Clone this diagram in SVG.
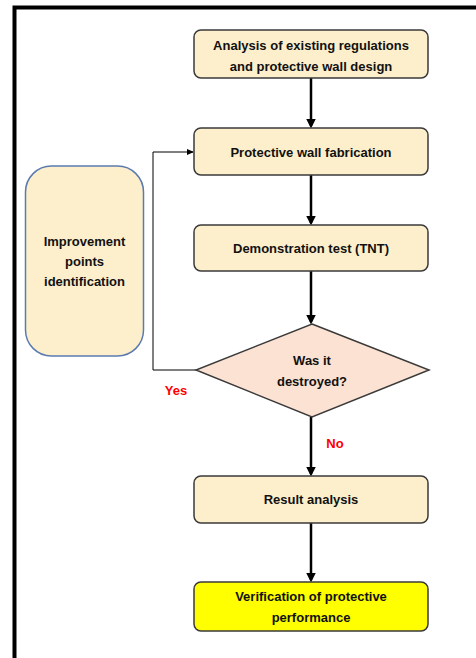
<svg xmlns="http://www.w3.org/2000/svg" width="476" height="658" viewBox="0 0 476 658">
<style>
.box{fill:#fdefcb;stroke:#3a3a3a;stroke-width:1.5}
.yel{fill:#ffff00;stroke:#3a3a3a;stroke-width:1.5}
.t{font-family:"Liberation Sans",Arial,sans-serif;font-weight:bold;font-size:13px;fill:#111;text-anchor:middle}
.red{fill:#ff0000}
.main{stroke:#000;stroke-width:2.5;fill:none}
.thin{stroke:#000;stroke-width:1;fill:none}
</style>
<defs>
<marker id="ah" markerWidth="4" markerHeight="4" refX="3" refY="2" orient="auto" markerUnits="strokeWidth">
<path d="M0,0 L4,2 L0,4 Z" fill="#000"/>
</marker>
<marker id="ahs" markerWidth="7" markerHeight="6" refX="6" refY="3" orient="auto" markerUnits="userSpaceOnUse">
<path d="M0,0 L7,3 L0,6 Z" fill="#000"/>
</marker>
</defs>
<rect x="0" y="0" width="476" height="658" fill="#fff"/>
<path d="M14.5,670 L14.5,7.5 L490,7.5" fill="none" stroke="#000" stroke-width="4"/>
<g id="connectors">
<line class="main" x1="311" y1="78" x2="311" y2="126" marker-end="url(#ah)"/>
<line class="main" x1="311" y1="175" x2="311" y2="223" marker-end="url(#ah)"/>
<line class="main" x1="311" y1="271" x2="311" y2="322" marker-end="url(#ah)"/>
<line class="main" x1="311" y1="417" x2="311" y2="474" marker-end="url(#ah)"/>
<line class="main" x1="311" y1="523" x2="311" y2="580" marker-end="url(#ah)"/>
<path class="thin" d="M196,370 L153,370 L153,152 L193,152" marker-end="url(#ahs)"/>
<text class="t red" x="176" y="395">Yes</text>
<text class="t red" x="335" y="448">No</text>
</g>
<g id="n1"><rect class="box" x="194" y="30" width="234" height="48" rx="7"/>
<text class="t" x="311" y="50">Analysis of existing regulations</text>
<text class="t" x="311" y="71">and protective wall design</text></g>
<g id="n2"><rect class="box" x="194" y="128" width="234" height="47" rx="7"/>
<text class="t" x="311" y="157">Protective wall fabrication</text></g>
<g id="n3"><rect class="box" x="194" y="225" width="234" height="46" rx="7"/>
<text class="t" x="311" y="253">Demonstration test (TNT)</text></g>
<g id="n4"><polygon points="312,324 429,370 312,417 196,370" fill="#fbe2d2" stroke="#3a3a3a" stroke-width="1.5"/>
<text class="t" x="312" y="365">Was it</text>
<text class="t" x="312" y="386">destroyed?</text></g>
<g id="n5"><rect class="box" x="194" y="476" width="234" height="47" rx="7"/>
<text class="t" x="311" y="504">Result analysis</text></g>
<g id="n6"><rect class="yel" x="194" y="582" width="234" height="49" rx="7"/>
<text class="t" x="311" y="601">Verification of protective</text>
<text class="t" x="311" y="622">performance</text></g>
<g id="n7"><rect x="25.5" y="166" width="118" height="190" rx="26" fill="#fdefcb" stroke="#5b7bb0" stroke-width="1.5"/>
<text class="t" x="84.5" y="246">Improvement</text>
<text class="t" x="84.5" y="266">points</text>
<text class="t" x="84.5" y="286">identification</text></g>
</svg>
